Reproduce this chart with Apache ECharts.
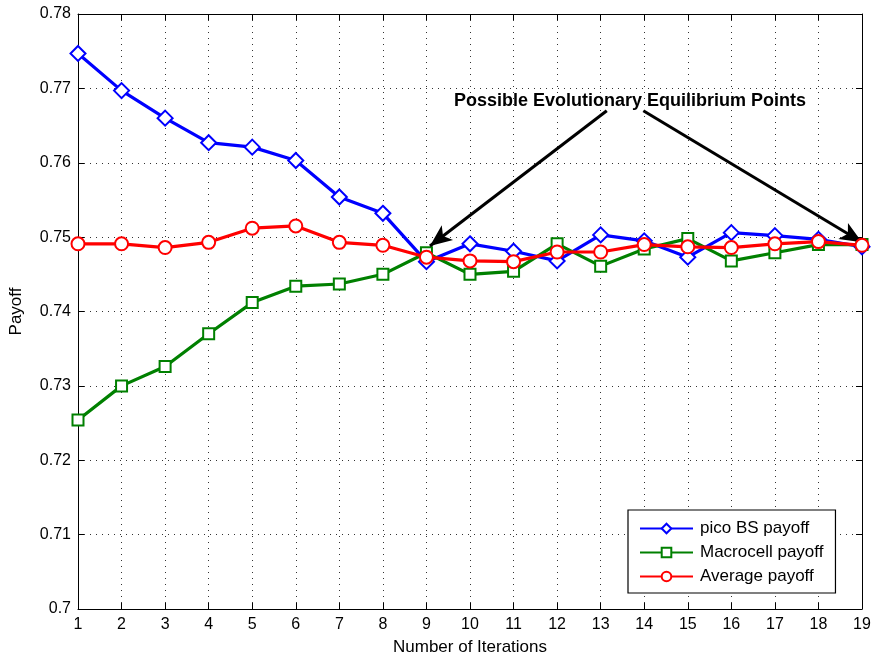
<!DOCTYPE html>
<html><head><meta charset="utf-8">
<script src="https://cdn.jsdelivr.net/npm/echarts@6/dist/echarts.min.js"></script>
<style>html,body{margin:0;padding:0;background:#fff}#c{width:874px;height:661px}</style>
</head><body><div id="c"></div>
<script>
const iterations = ['1','2','3','4','5','6','7','8','9','10','11','12','13','14','15','16','17','18','19'];
const picoBS = [0.7747,0.7697,0.7660,0.7627,0.7621,0.7603,0.7554,0.7532,0.7467,0.7491,0.7481,0.7468,0.7503,0.7495,0.7473,0.7506,0.7502,0.7497,0.7487];
const macrocell = [0.7254,0.7300,0.7326,0.7370,0.7412,0.7434,0.7437,0.7450,0.7479,0.7450,0.7454,0.7491,0.7461,0.7484,0.7498,0.7468,0.7479,0.7490,0.7490];
const average = [0.7491,0.7491,0.7486,0.7493,0.7512,0.7515,0.7493,0.7489,0.7473,0.7468,0.7467,0.7480,0.7480,0.7490,0.7487,0.7486,0.7491,0.7494,0.7489];
const yTicks = ['0.7','0.71','0.72','0.73','0.74','0.75','0.76','0.77','0.78'];
const annotationText = 'Possible Evolutionary Equilibrium Points';
const arrowStarts = [[13.14,0.7670],[13.98,0.7670]];
const arrowEnds = [[9.08,0.7488],[19,0.7493]];

const font = 'Liberation Sans, Arial, Helvetica, sans-serif';
const chart = echarts.init(document.getElementById('c'));
const gridLine = {show:true, lineStyle:{color:'#000', type:[1,5], width:1, opacity:0.8}};
const xData = iterations.map(Number);
function series(name, data, color, symbol, size){
  return {name, type:'line', data:data.map((v,i)=>[xData[i],v]), symbol, symbolSize:size,
    lineStyle:{color, width:3.2}, itemStyle:{color, borderColor:color, borderWidth:2.8},
    emphasis:{disabled:true}, z:3};
}
const s1 = series('pico BS payoff', picoBS, '#0000ff', 'emptyDiamond', 15);
s1.z = 3;
const s2 = series('Macrocell payoff', macrocell, '#008000', 'emptyRect', 11);
s2.z = 4;
const s3 = series('Average payoff', average, '#ff0000', 'emptyCircle', 13);
s3.z = 5;
s3.markLine = {silent:true, symbol:['none','arrow'], symbolSize:[14,22],
  lineStyle:{color:'#000', width:3, type:'solid'}, label:{show:false},
  data: arrowStarts.map((s,i)=>[{coord:s},{coord:arrowEnds[i]}])};
chart.setOption({
  animation:false,
  backgroundColor:'#fff',
  textStyle:{fontFamily:font},
  grid:{left:78, right:12, top:14, bottom:50},
  legend:{left:628, top:510, orient:'vertical', width:207, backgroundColor:'#fff',
    borderColor:'#000', borderWidth:1.2, padding:[10,12,8,11], itemGap:7, itemWidth:53, itemHeight:12,
    textStyle:{fontSize:17, color:'#000', fontFamily:font, padding:[0,0,0,2]},
    data:['pico BS payoff','Macrocell payoff','Average payoff']},
  xAxis:[{type:'value', min:1, max:19, interval:1, position:'bottom',
    name:'Number of Iterations', nameLocation:'middle', nameGap:30,
    nameTextStyle:{fontSize:17, color:'#000'},
    axisLine:{lineStyle:{color:'#000', width:1}}, axisTick:{inside:true, length:6, lineStyle:{color:'#000'}},
    axisLabel:{fontSize:16, color:'#000', margin:8}, splitLine:gridLine},
    {type:'value', min:1, max:19, interval:1, position:'top',
    axisLine:{lineStyle:{color:'#000'}}, axisTick:{inside:true, length:6, lineStyle:{color:'#000'}},
    axisLabel:{show:false}, splitLine:{show:false}}],
  yAxis:[{type:'value', min:0.7, max:0.78, interval:0.01, position:'left',
    name:'Payoff', nameLocation:'middle', nameGap:53,
    nameTextStyle:{fontSize:17, color:'#000'},
    axisLine:{show:true, lineStyle:{color:'#000'}}, axisTick:{show:true, inside:true, length:6, lineStyle:{color:'#000'}},
    axisLabel:{fontSize:16, color:'#000', margin:7, formatter:(v)=>yTicks[Math.round((v-0.7)*100)]}, splitLine:gridLine},
    {type:'value', min:0.7, max:0.78, interval:0.01, position:'right',
    axisLine:{show:true, lineStyle:{color:'#000'}}, axisTick:{show:true, inside:true, length:6, lineStyle:{color:'#000'}},
    axisLabel:{show:false}, splitLine:{show:false}}],
  graphic:[{type:'text', x:630, y:101, z:10,
    style:{text:annotationText, font:'bold 18px '+font, fill:'#000', align:'center', verticalAlign:'middle'}}],
  series:[s1,s2,s3]
});
</script></body></html>
